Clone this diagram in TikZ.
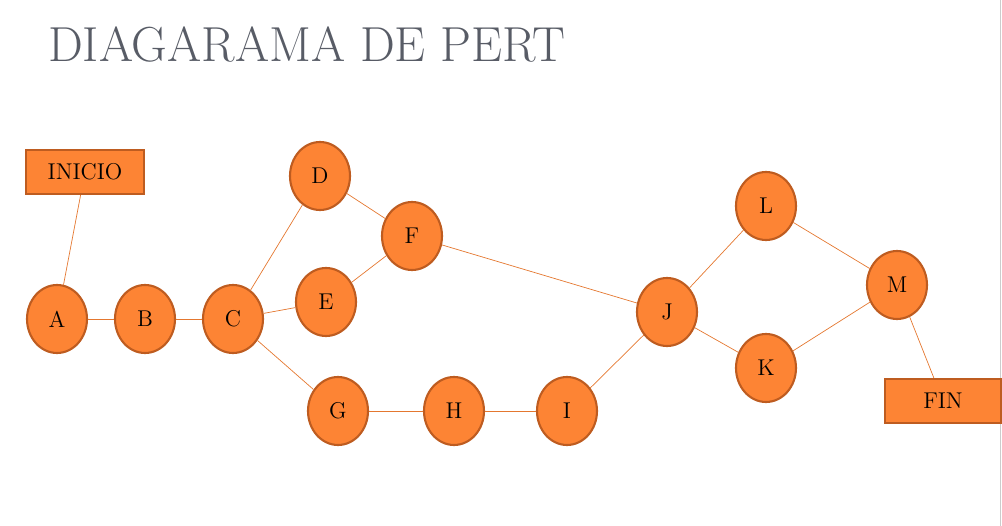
\documentclass[tikz,border=0pt]{standalone}
\usepackage{tikz}
\usetikzlibrary{shapes.geometric}
\definecolor{pertfill}{RGB}{253,132,52}
\definecolor{pertdraw}{RGB}{190,92,32}
\definecolor{titlegray}{RGB}{88,92,102}
\tikzstyle{event} = [ellipse, draw=pertdraw, fill=pertfill, line width=1.2pt, minimum width=1.2cm, minimum height=1.36cm, inner sep=0pt, font=\fontsize{13}{15}\selectfont]
\tikzstyle{endbox} = [rectangle, draw=pertdraw, fill=pertfill, line width=1.2pt, minimum height=0.88cm, inner sep=2pt, font=\fontsize{13}{15}\selectfont]
\tikzstyle{link} = [pertfill!90!black, line width=0.4pt]

\begin{document}
\begin{tikzpicture}[x=0.02cm, y=-0.02cm]
    \useasboundingbox (0,0) rectangle (1002,526);
    \draw [black!20] (1000,0) -- (1000,526);

    \node [anchor=west, text=titlegray, font=\fontsize{28}{32}\selectfont] (title) at (42,45) {DIAGARAMA DE PERT};

    \node (inicio) [endbox, minimum width=2.36cm] at (85,172) {INICIO};
    \node (a) [event] at (57,319) {A};
    \node (b) [event] at (145,319) {B};
    \node (c) [event] at (233,319) {C};
    \node (d) [event] at (320,176) {D};
    \node (e) [event] at (326,302) {E};
    \node (f) [event] at (412,236) {F};
    \node (g) [event] at (338,411) {G};
    \node (h) [event] at (454,411) {H};
    \node (i) [event] at (567,411) {I};
    \node (j) [event] at (667,312) {J};
    \node (k) [event] at (766,368) {K};
    \node (l) [event] at (766,206) {L};
    \node (m) [event] at (897,285) {M};
    \node (fin) [endbox, minimum width=2.32cm] at (943,401) {FIN};

    \draw [link] (inicio) -- (a);
    \draw [link] (a) -- (b);
    \draw [link] (b) -- (c);
    \draw [link] (c) -- (d);
    \draw [link] (c) -- (e);
    \draw [link] (c) -- (g);
    \draw [link] (d) -- (f);
    \draw [link] (e) -- (f);
    \draw [link] (f) -- (j);
    \draw [link] (g) -- (h);
    \draw [link] (h) -- (i);
    \draw [link] (i) -- (j);
    \draw [link] (j) -- (l);
    \draw [link] (j) -- (k);
    \draw [link] (l) -- (m);
    \draw [link] (k) -- (m);
    \draw [link] (m) -- (fin);

\end{tikzpicture}
\end{document}
